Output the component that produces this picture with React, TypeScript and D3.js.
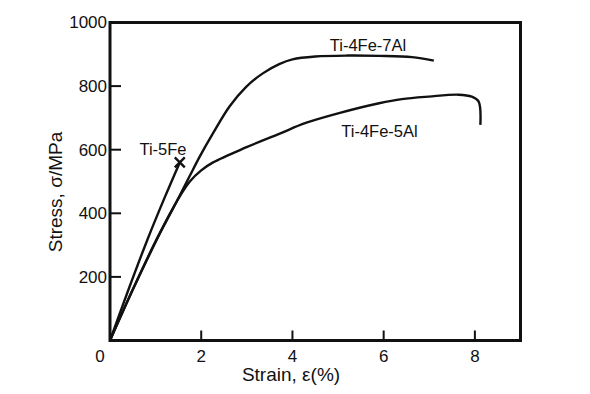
import React from 'react';
import * as d3 from 'd3';

const W = 590;
const H = 394;

// Ti-5Fe (fractures early, marked with x)
const ti5FeStrain = [0, 0.4, 0.82, 1.2, 1.53];
const ti5FeStress = [0, 158, 317, 450, 560];

// Ti-4Fe-7Al
const ti4Fe7AlStrain = [0, 0.5, 1.0, 1.4, 1.75, 1.97, 2.26, 2.62, 2.98, 3.35, 3.71, 4.0, 4.5, 5.2, 5.9, 6.62, 7.1];
const ti4Fe7AlStress = [0, 160, 312, 420, 518, 579, 652, 736, 797, 840, 869, 884, 893, 896, 895, 891, 880];

// Ti-4Fe-5Al
const ti4Fe5AlStrain = [0, 0.5, 1.0, 1.3, 1.56, 1.75, 2.0, 2.26, 2.98, 3.71, 4.29, 5.02, 5.9, 6.4, 6.99, 7.64, 7.93, 8.08, 8.12];
const ti4Fe5AlStress = [0, 160, 310, 395, 460, 500, 535, 560, 607, 650, 684, 715, 746, 759, 767, 773, 767, 752, 678];

const xTicks = [0, 2, 4, 6, 8];
const yTicks = [0, 200, 400, 600, 800, 1000];

const font = '"Liberation Sans", Arial, sans-serif';

const App: React.FC = () => {
  const left = 110, right = 520.5, top = 22.5, bottom = 340.5;

  const x = d3.scaleLinear().domain([0, 9]).range([left, right]);
  const y = d3.scaleLinear().domain([0, 1000]).range([bottom, top]);

  const line = d3.line<[number, number]>()
    .x((d) => x(d[0]))
    .y((d) => y(d[1]))
    .curve(d3.curveCatmullRom.alpha(0.5));

  const zip = (a: number[], b: number[]) => a.map((v, i) => [v, b[i]] as [number, number]);

  const curves = [
    zip(ti5FeStrain, ti5FeStress),
    zip(ti4Fe7AlStrain, ti4Fe7AlStress),
    zip(ti4Fe5AlStrain, ti4Fe5AlStress),
  ];

  const endX = x(ti5FeStrain[ti5FeStrain.length - 1]);
  const endY = y(ti5FeStress[ti5FeStress.length - 1]);

  return (
    <svg width={W} height={H} style={{ position: 'absolute', left: 0, top: 0, background: '#fff' }}>
      {curves.map((c, i) => (
        <path key={i} d={line(c) || ''} fill="none" stroke="#111" strokeWidth={2.4} strokeLinejoin="round" />
      ))}
      {/* fracture marker */}
      <g stroke="#111" strokeWidth={2.4}>
        <line x1={endX - 5} y1={endY - 5} x2={endX + 5} y2={endY + 5} />
        <line x1={endX - 5} y1={endY + 5} x2={endX + 5} y2={endY - 5} />
      </g>

      {/* frame */}
      <rect x={left} y={top} width={right - left} height={bottom - top} fill="none" stroke="#111" strokeWidth={3} />

      {yTicks.map((t) => (
        <g key={'y' + t}>
          {t > 0 && t < 1000 && (
            <line x1={left} x2={left + 11} y1={y(t)} y2={y(t)} stroke="#111" strokeWidth={2} />
          )}
          {t > 0 && (
            <text x={left - 3} y={y(t)} dy="0.35em" textAnchor="end" fontFamily={font} fontSize={17} fill="#111">
              {t}
            </text>
          )}
        </g>
      ))}
      {xTicks.map((t) => (
        <g key={'x' + t}>
          {t > 0 && (
            <line x1={x(t)} x2={x(t)} y1={bottom} y2={bottom - 10} stroke="#111" strokeWidth={2} />
          )}
          <text x={t === 0 ? x(t) - 10 : x(t)} y={bottom + 21} textAnchor="middle" fontFamily={font} fontSize={17} fill="#111">
            {t}
          </text>
        </g>
      ))}

      <text x={291} y={381} textAnchor="middle" fontFamily={font} fontSize={19} fill="#111">
        Strain, ε(%)
      </text>
      <text transform={`translate(62, 192) rotate(-90)`} textAnchor="middle" fontFamily={font} fontSize={19} fill="#111">
        Stress, σ/MPa
      </text>

      <text x={163} y={155} textAnchor="middle" fontFamily={font} fontSize={16.5} fill="#111">Ti-5Fe</text>
      <text x={368} y={51} textAnchor="middle" fontFamily={font} fontSize={16.5} fill="#111">Ti-4Fe-7Al</text>
      <text x={379.5} y={137} textAnchor="middle" fontFamily={font} fontSize={16.5} fill="#111">Ti-4Fe-5Al</text>
    </svg>
  );
};

export default App;
